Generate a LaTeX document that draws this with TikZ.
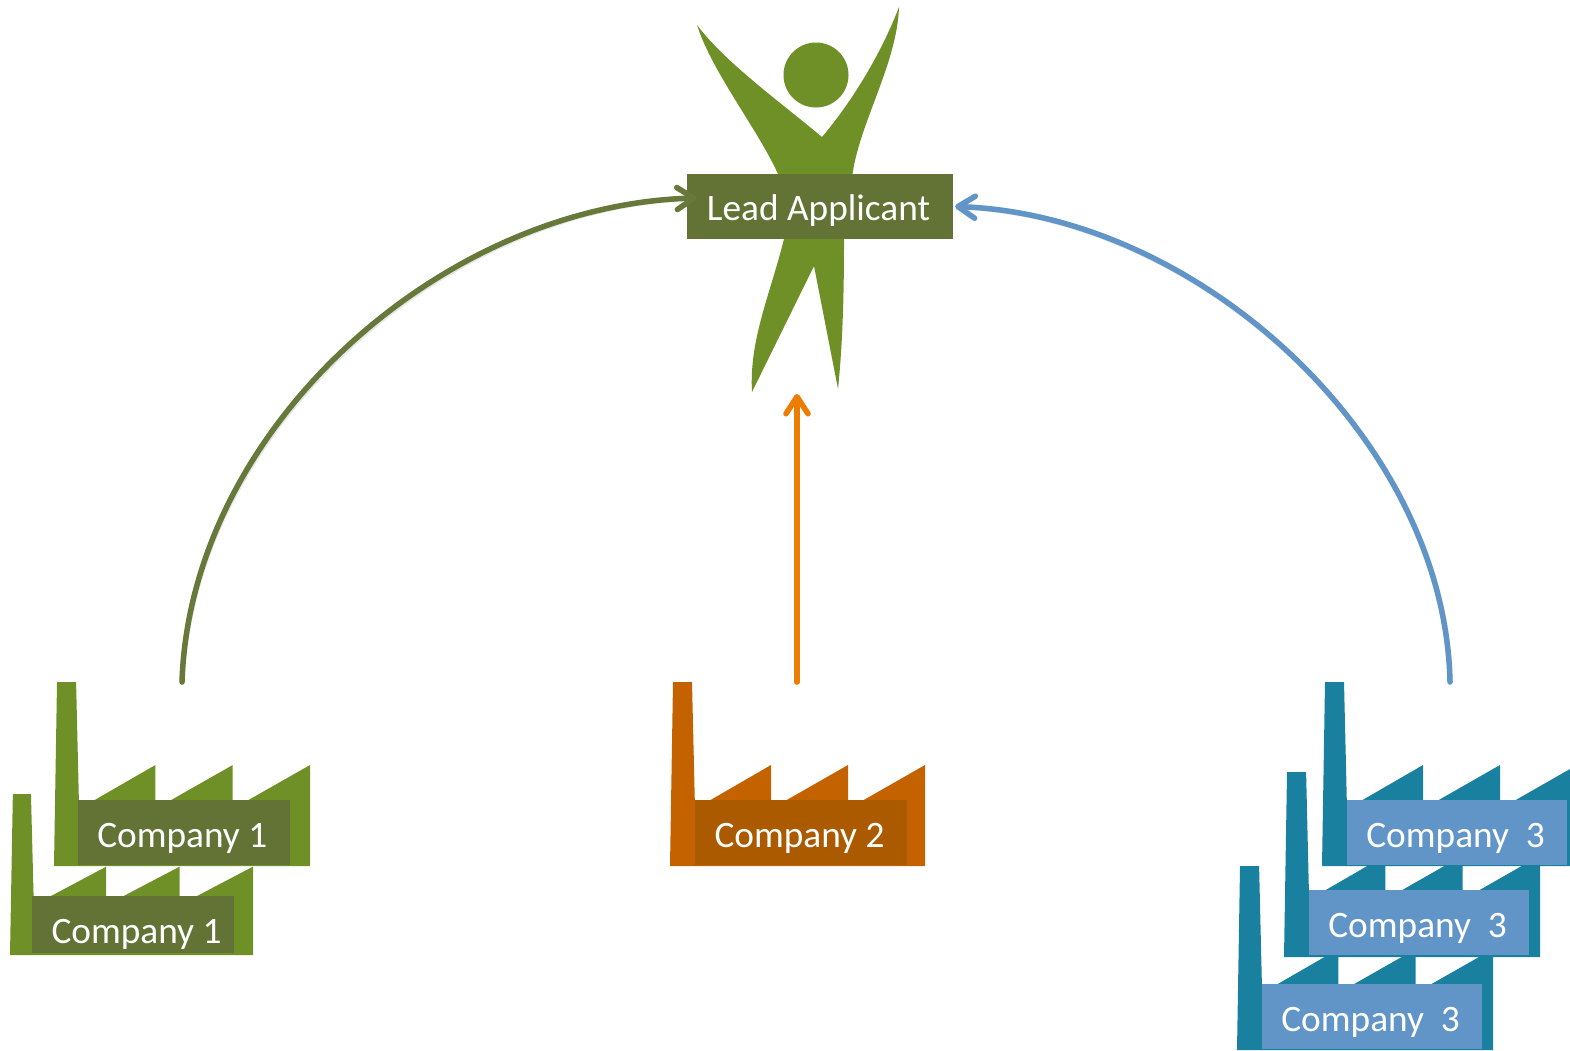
\documentclass[tikz,border=0pt]{standalone}
\usepackage{fontspec}
\setmainfont{Carlito}
\usetikzlibrary{arrows.meta,calc}
\definecolor{figgreen}{HTML}{6F9027}
\definecolor{boxgreen}{HTML}{637335}
\definecolor{linegreen}{HTML}{66793A}
\definecolor{facorange}{HTML}{C46200}
\definecolor{boxorange}{HTML}{AB5A00}
\definecolor{arrorange}{HTML}{ED7D00}
\definecolor{facteal}{HTML}{1A809F}
\definecolor{boxblue}{HTML}{6195C8}
\tikzset{
  label box/.style={inner sep=0pt,text=white,font=\fontsize{37.3}{40}\selectfont,minimum height=65pt,anchor=center},
  link/.style={line width=5.5pt,line cap=round,-{Straight Barb[length=17pt,width=22pt,line width=5.5pt,round]}},
  soft/.style={line width=5.5pt,line cap=round,draw=black,opacity=0.1,-{Straight Barb[length=17pt,width=22pt,line width=5.5pt,round]}},
}
\newcommand{\lbl}[3]{\smash{\raisebox{-#2pt}{\makebox[0pt]{\hspace{#1pt}#3}}}}
\newcommand{\factoryat}[5]{%
  \begin{scope}[shift={(#1,#2)},xscale=#3/255,yscale=#4/184]
    \fill[#5] (0,184) -- (3,0) -- (22,0) -- (25,127) -- (101,83) -- (101,127) -- (178,83) -- (178,127) -- (255,83) -- (255,184) -- cycle;
  \end{scope}}
\begin{document}
\begin{tikzpicture}[x=1pt,y=-1pt]
\useasboundingbox (0,0) rectangle (1570,1050);
\clip (0,0) rectangle (1570,1050);
% figure
\fill[figgreen] (816,75) circle[radius=32.5];
\fill[figgreen] (697,25)
  .. controls (725,62) and (775,98) .. (822,137)
  .. controls (845,110) and (878,62) .. (899,7)
  .. controls (897,65) and (858,125) .. (852,178)
  .. controls (846,200) and (844,220) .. (844,239)
  .. controls (844,290) and (843,340) .. (838,389)
  -- (814,266)
  -- (752,392)
  .. controls (749,340) and (770,295) .. (784,239)
  .. controls (785,215) and (786,200) .. (778,174)
  .. controls (757,128) and (712,72) .. (697,25) -- cycle;
% factories
\factoryat{54}{682}{256}{184}{figgreen}
\factoryat{10}{794}{243}{161}{figgreen}
\factoryat{670}{682}{255}{184}{facorange}
\factoryat{1322}{682}{255}{184}{facteal}
\factoryat{1284}{772}{256}{185}{facteal}
\factoryat{1237}{866}{256}{184}{facteal}
% labels
\node[label box,fill=boxgreen,minimum width=266pt] (lead) at (820,206.5) {\lbl{-3}{13.5}{Lead Applicant}};
\node[label box,fill=boxgreen,minimum width=212pt] (c1a) at (184,832.5) {\lbl{-3.5}{14.5}{Company 1}};
\node[label box,fill=boxgreen,minimum width=202pt,minimum height=57pt] (c1b) at (133,924.5) {\lbl{7}{18.5}{Company 1}};
\node[label box,fill=boxorange,minimum width=212pt] (c2) at (801,832.5) {\lbl{-3}{14.5}{Company 2}};
\node[label box,fill=boxblue,minimum width=220pt] (c3a) at (1457,832.5) {\lbl{-3}{14.5}{Company\ \ 3}};
\node[label box,fill=boxblue,minimum width=220pt] (c3b) at (1419,922.5) {\lbl{-3}{14.5}{Company\ \ 3}};
\node[label box,fill=boxblue,minimum width=220pt] (c3c) at (1372,1016.5) {\lbl{-3}{14.5}{Company\ \ 3}};
% connector ends
\coordinate (f1top) at (182,682);
\coordinate (f2top) at (797,682);
\coordinate (f3top) at (1450,682);
\coordinate (figfoot) at (797,394);
% connectors
\begin{scope}[shift={(1.5,2)}]
\draw[soft] (f1top) .. controls (190,430) and (440,205) .. ([xshift=10pt,yshift=8.5pt]lead.west);
\draw[soft] (f2top) -- (figfoot);
\draw[soft] (f3top) .. controls (1445,440) and (1200,215) .. ([xshift=2pt]lead.east);
\end{scope}
\draw[link,linegreen] (f1top) .. controls (190,430) and (440,205) .. ([xshift=10pt,yshift=8.5pt]lead.west);
\draw[link,arrorange] (f2top) -- (figfoot);
\draw[link,boxblue] (f3top) .. controls (1445,440) and (1200,215) .. ([xshift=2pt]lead.east);
\end{tikzpicture}
\end{document}
